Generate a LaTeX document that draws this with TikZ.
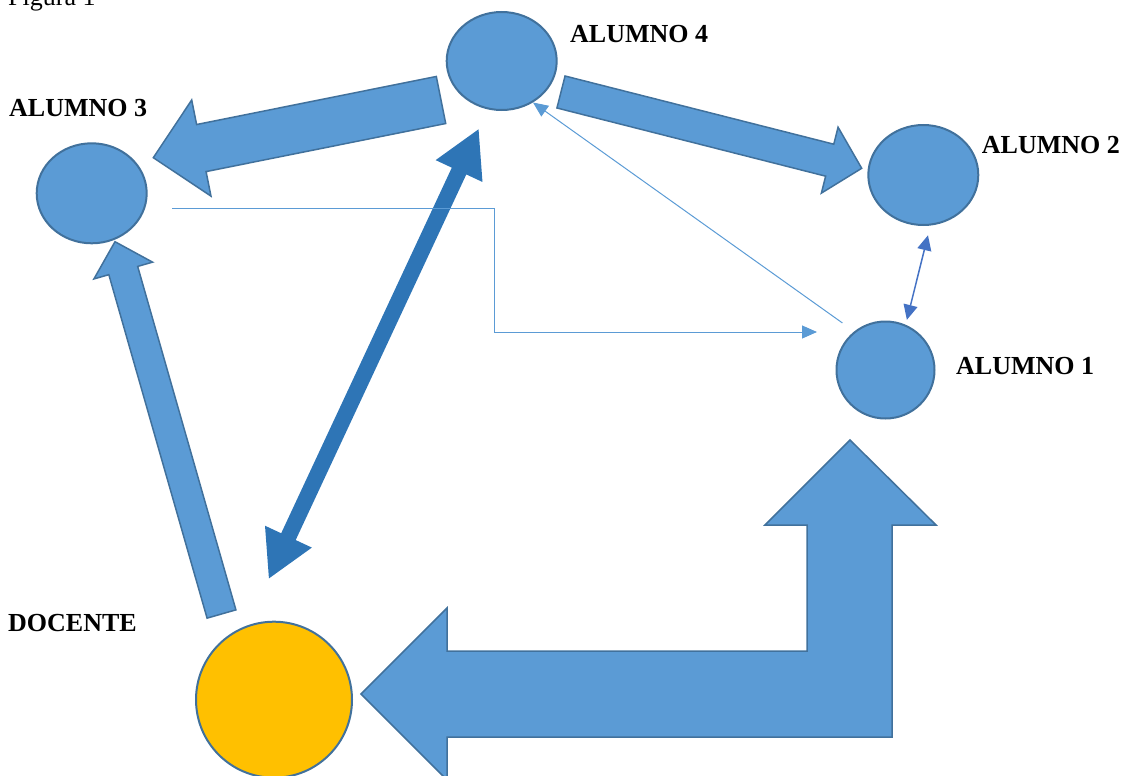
\documentclass[tikz,border=0pt]{standalone}
\usepackage{fontspec}
\setmainfont{Liberation Serif}
\usetikzlibrary{shapes.geometric,arrows.meta,calc}

\definecolor{boxblue}{HTML}{5B9BD5}
\definecolor{edgeblue}{HTML}{41719C}
\definecolor{deepblue}{HTML}{2E75B6}
\definecolor{linkblue}{HTML}{4472C4}
\definecolor{gold}{HTML}{FFC000}

% block arrow: tail, tip, shaft half width, head half width, head length
\newcommand{\blockarrow}[5]{%
  \coordinate (hb) at ($(#2)!#5!(#1)$);
  \draw[blk] ($(#1)!#3!90:(#2)$) -- ($(hb)!#3!90:(#2)$) -- ($(hb)!#4!90:(#2)$)
    -- (#2) -- ($(hb)!#4!-90:(#2)$) -- ($(hb)!#3!-90:(#2)$) -- ($(#1)!#3!-90:(#2)$) -- cycle;
}

\begin{document}
\begin{tikzpicture}[x=1pt, y=-1pt]

  \tikzstyle{stu}      = [ellipse, draw=edgeblue, line width=2pt, fill=boxblue, inner sep=0pt]
  \tikzstyle{blk}      = [draw=edgeblue, line width=1.5pt, fill=boxblue, line join=miter]
  \tikzstyle{lbl}      = [anchor=base west, inner sep=0pt, font=\fontsize{26}{30}\selectfont\bfseries]
  \tikzstyle{thinlink} = [boxblue, line width=1pt, -{Triangle[length=15pt,width=13pt]}]
  \tikzstyle{dbl}      = [linkblue, line width=1.5pt,
                          {Triangle[length=15pt,width=14pt]}-{Triangle[length=15pt,width=14pt]}]
  \tikzstyle{bigarr}   = [deepblue, line width=16pt,
                          {Triangle[length=47pt,width=48pt]}-{Triangle[length=47pt,width=48pt]}]

  \useasboundingbox (0,0) rectangle (1125,776);

  % ---- CAPTION ----
  \node[anchor=base west, inner sep=0pt, font=\fontsize{26}{30}\selectfont] (fig) at (8,5.5) {Figura 1};

  % ---- CIRCLES ----
  \node[stu, minimum width=110pt, minimum height=98pt]  (a4) at (501.7,61) {};
  \node[stu, minimum width=110pt, minimum height=100pt] (a3) at (91.7,193.3) {};
  \node[stu, minimum width=110pt, minimum height=100pt] (a2) at (923.3,175) {};
  \node[stu, minimum width=98pt, minimum height=97pt]   (a1) at (885.5,370) {};
  \node[stu, circle, fill=gold, minimum size=156pt]     (doc) at (274,699.7) {};

  % ---- LABELS ----
  \node[lbl] (l4)  at (570,42.7)   {ALUMNO 4};
  \node[lbl] (l3)  at (9,116.7)    {ALUMNO 3};
  \node[lbl] (l2)  at (981.7,153.3) {ALUMNO 2};
  \node[lbl] (l1)  at (956,374)    {ALUMNO 1};
  \node[lbl] (ldc) at (8,631.5)    {DOCENTE};

  % ---- BLOCK ARROWS ----
  \blockarrow{441,100}{153.3,157.7}{24pt}{49pt}{49pt}     % alumno 4 -> alumno 3
  \blockarrow{561,92}{861.7,168.3}{16.5pt}{34pt}{33pt}    % alumno 4 -> alumno 2
  \blockarrow{221.5,614}{115,241.7}{15pt}{30.5pt}{30pt}   % docente -> alumno 3

  % bent arrow alumno 1 <-> docente
  \draw[blk] (361,694) -- (447,608) -- (447,651) -- (807,651) -- (807,525)
    -- (765,525) -- (850,440) -- (936,525) -- (892,525) -- (892,737)
    -- (447,737) -- (447,780) -- cycle;

  % ---- LINKS ----
  \draw[bigarr, shorten <=51pt, shorten >=21pt] (doc.110) -- (a4.-106);
  \draw[dbl, shorten <=5pt, shorten >=10pt] (a1.66) -- (a2.-82);
  \draw[thinlink, shorten <=14.5pt] (a1.129) -- (a4.-53);

  \coordinate (elbS) at (172,208);
  \coordinate (elbE) at (817,332);
  \draw[thinlink] (elbS) -| ($(elbS)!.5!(elbE)$) |- (elbE);

\end{tikzpicture}
\end{document}
